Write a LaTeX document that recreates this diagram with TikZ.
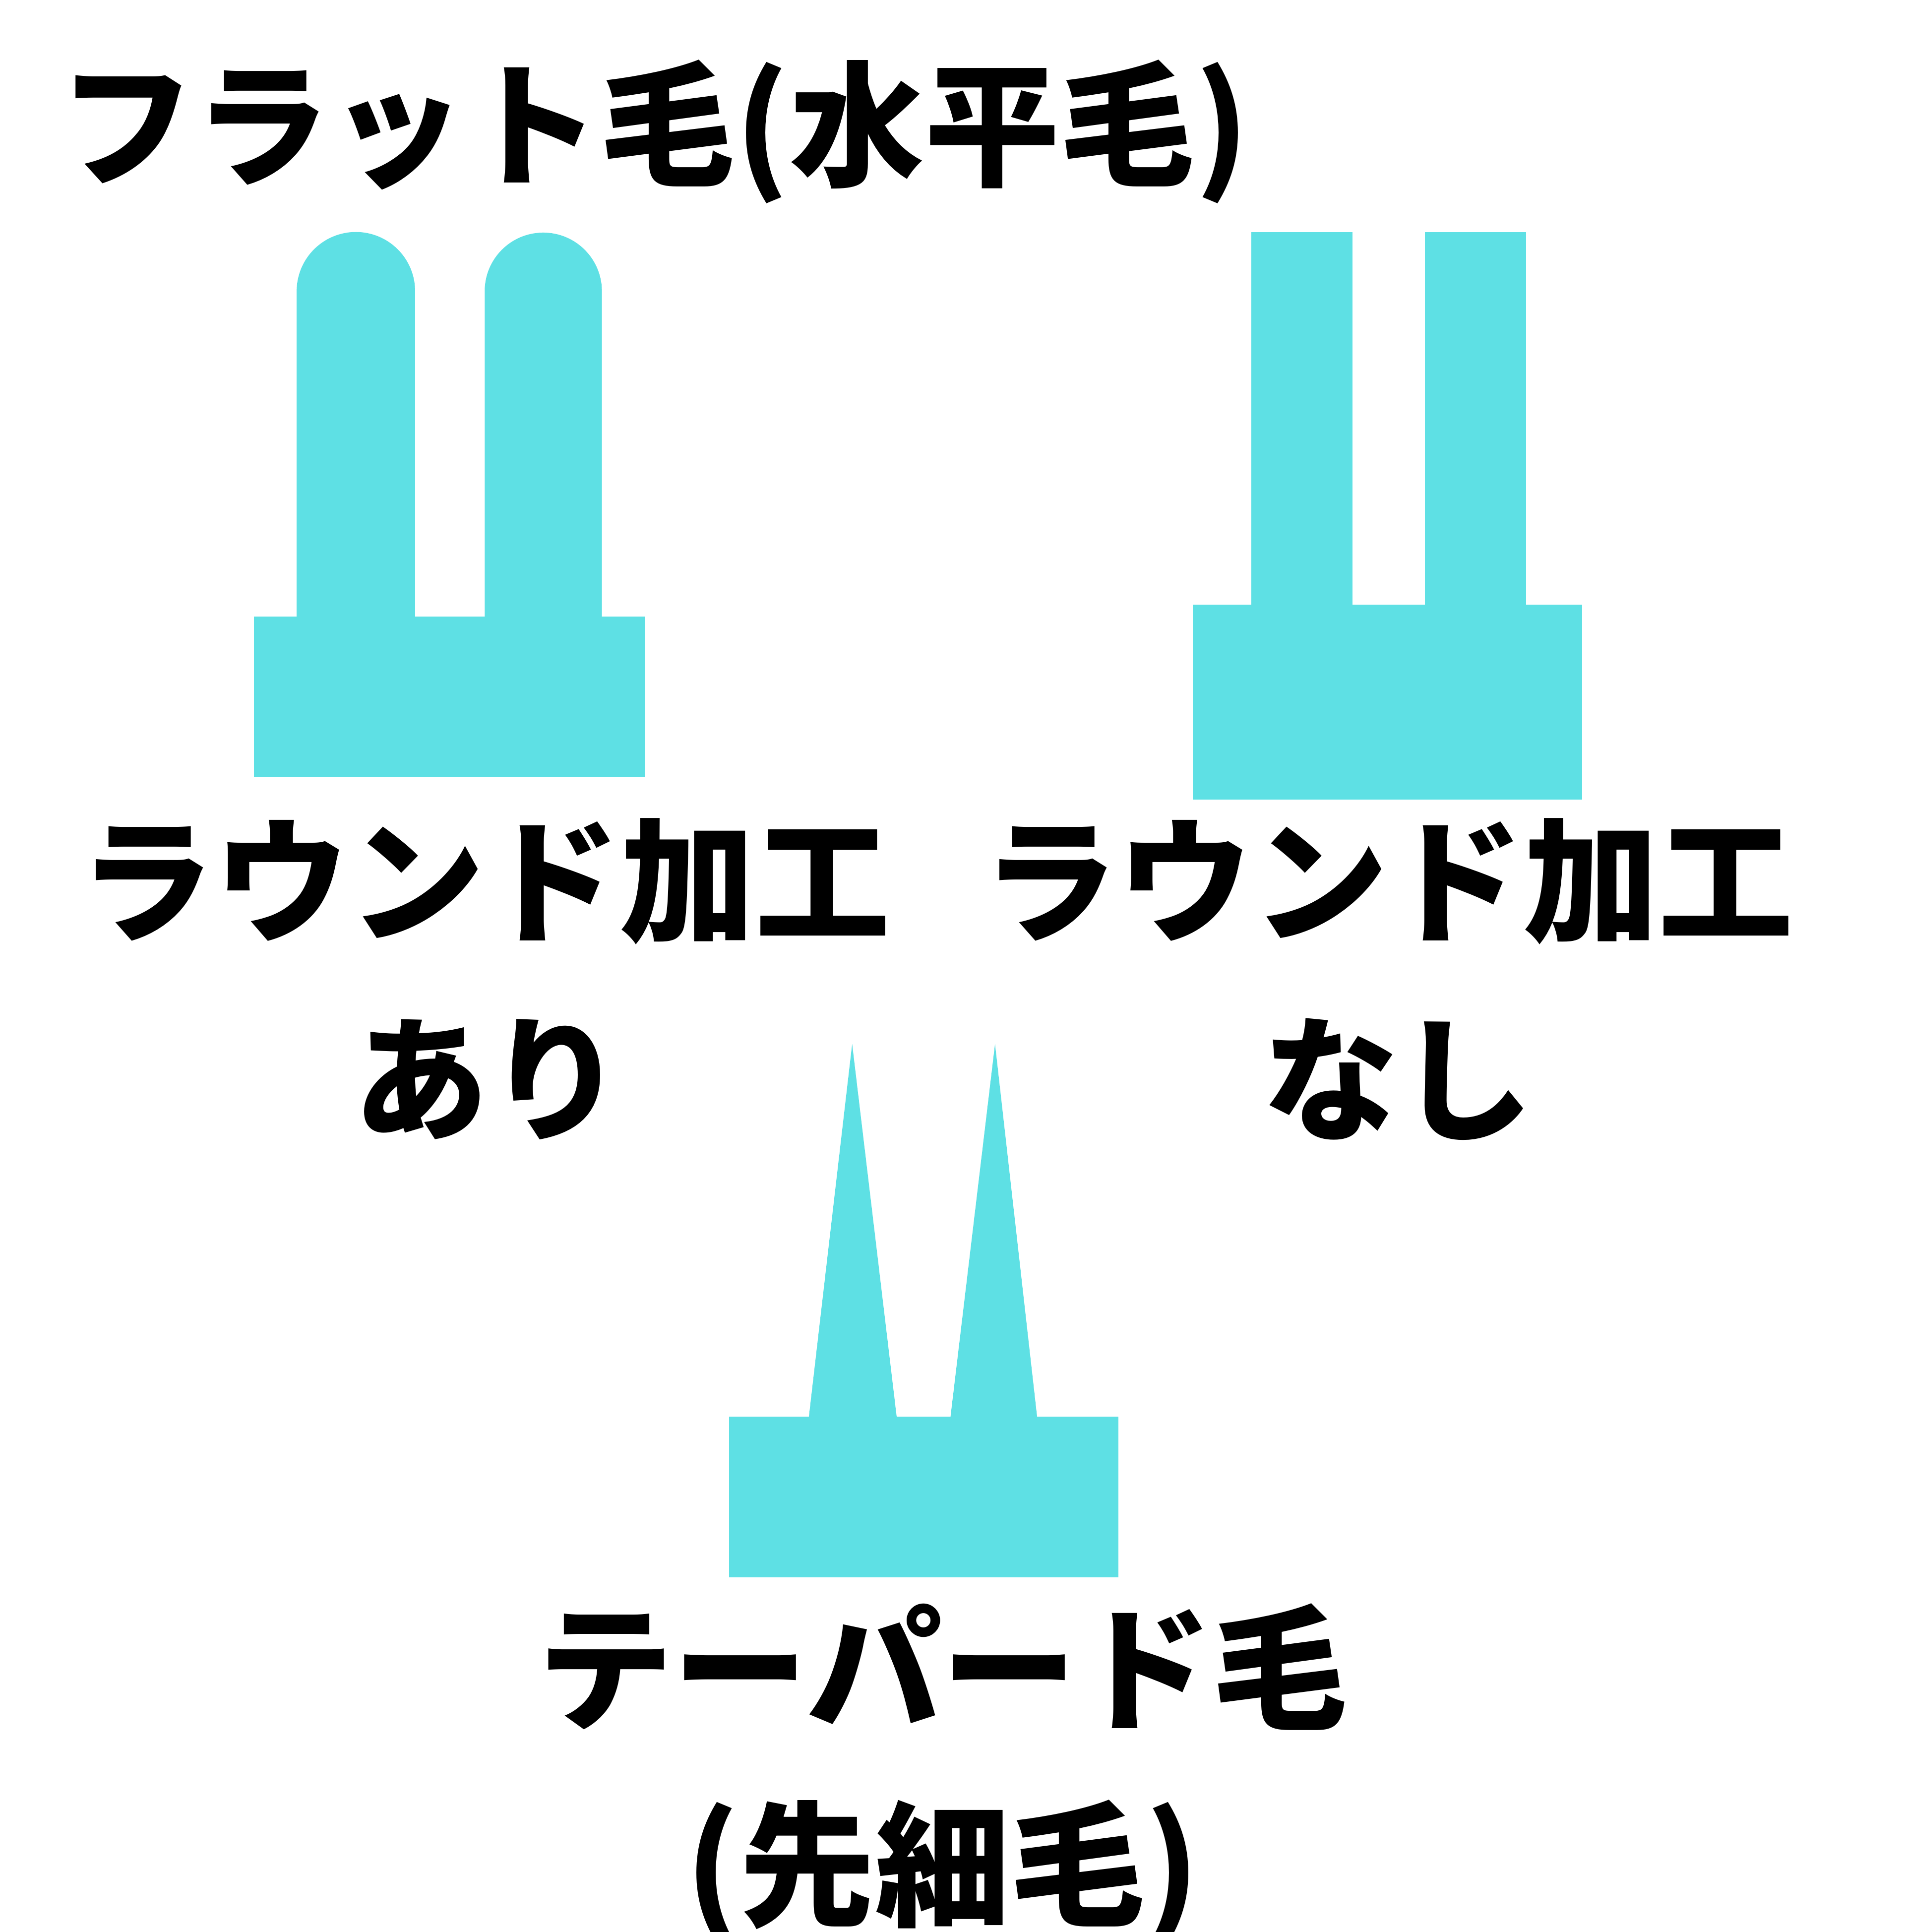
\documentclass[tikz,border=0pt]{standalone}
\usepackage{fontspec}
\newfontfamily\jpfont{Noto Sans CJK JP}
\definecolor{bristlecyan}{RGB}{94,224,228}
\tikzset{
  bristle/.style={fill=bristlecyan, draw=none},
  label/.style={font=\jpfont\bfseries\fontsize{31.5}{38}\selectfont, inner sep=0pt, align=center}
}
\begin{document}
\begin{tikzpicture}
% canvas, same proportions as the reference
\fill[white] (0,0) rectangle (15.6,-15.823);
\useasboundingbox (0,0) rectangle (15.6,-15.823);

% Title
\node[label, anchor=west] (title) at (0.48,-1.08) {フラット毛(水平毛)};

% Round-tipped brush
\fill[bristle] (2.43,-5.1) -- (2.43,-2.385) arc (180:0:0.485) -- (3.40,-5.1) -- cycle;
\fill[bristle] (3.97,-5.1) -- (3.97,-2.385) arc (180:0:0.48) -- (4.93,-5.1) -- cycle;
\fill[bristle] (2.08,-5.05) rectangle (5.28,-6.36);
\node[label] (roundA) at (3.97,-7.22) {ラウンド加工};
\node[label] (ari) at (4.0,-8.84) {あり};

% Flat-cut brush
\fill[bristle] (10.25,-1.9) rectangle (11.08,-5.0);
\fill[bristle] (11.67,-1.9) rectangle (12.50,-5.0);
\fill[bristle] (9.77,-4.95) rectangle (12.96,-6.55);
\node[label] (roundB) at (11.37,-7.22) {ラウンド加工};
\node[label] (nashi) at (11.45,-8.84) {なし};

% Tapered brush
\fill[bristle] (6.62,-11.65) -- (6.98,-8.55) -- (7.35,-11.65) -- cycle;
\fill[bristle] (7.78,-11.65) -- (8.15,-8.55) -- (8.50,-11.65) -- cycle;
\fill[bristle] (5.97,-11.6) rectangle (9.16,-12.92);
\node[label] (taper) at (7.72,-13.65) {テーパード毛};
\node[label] (sakibuto) at (7.72,-15.33) {(先細毛)};
\end{tikzpicture}
\end{document}
